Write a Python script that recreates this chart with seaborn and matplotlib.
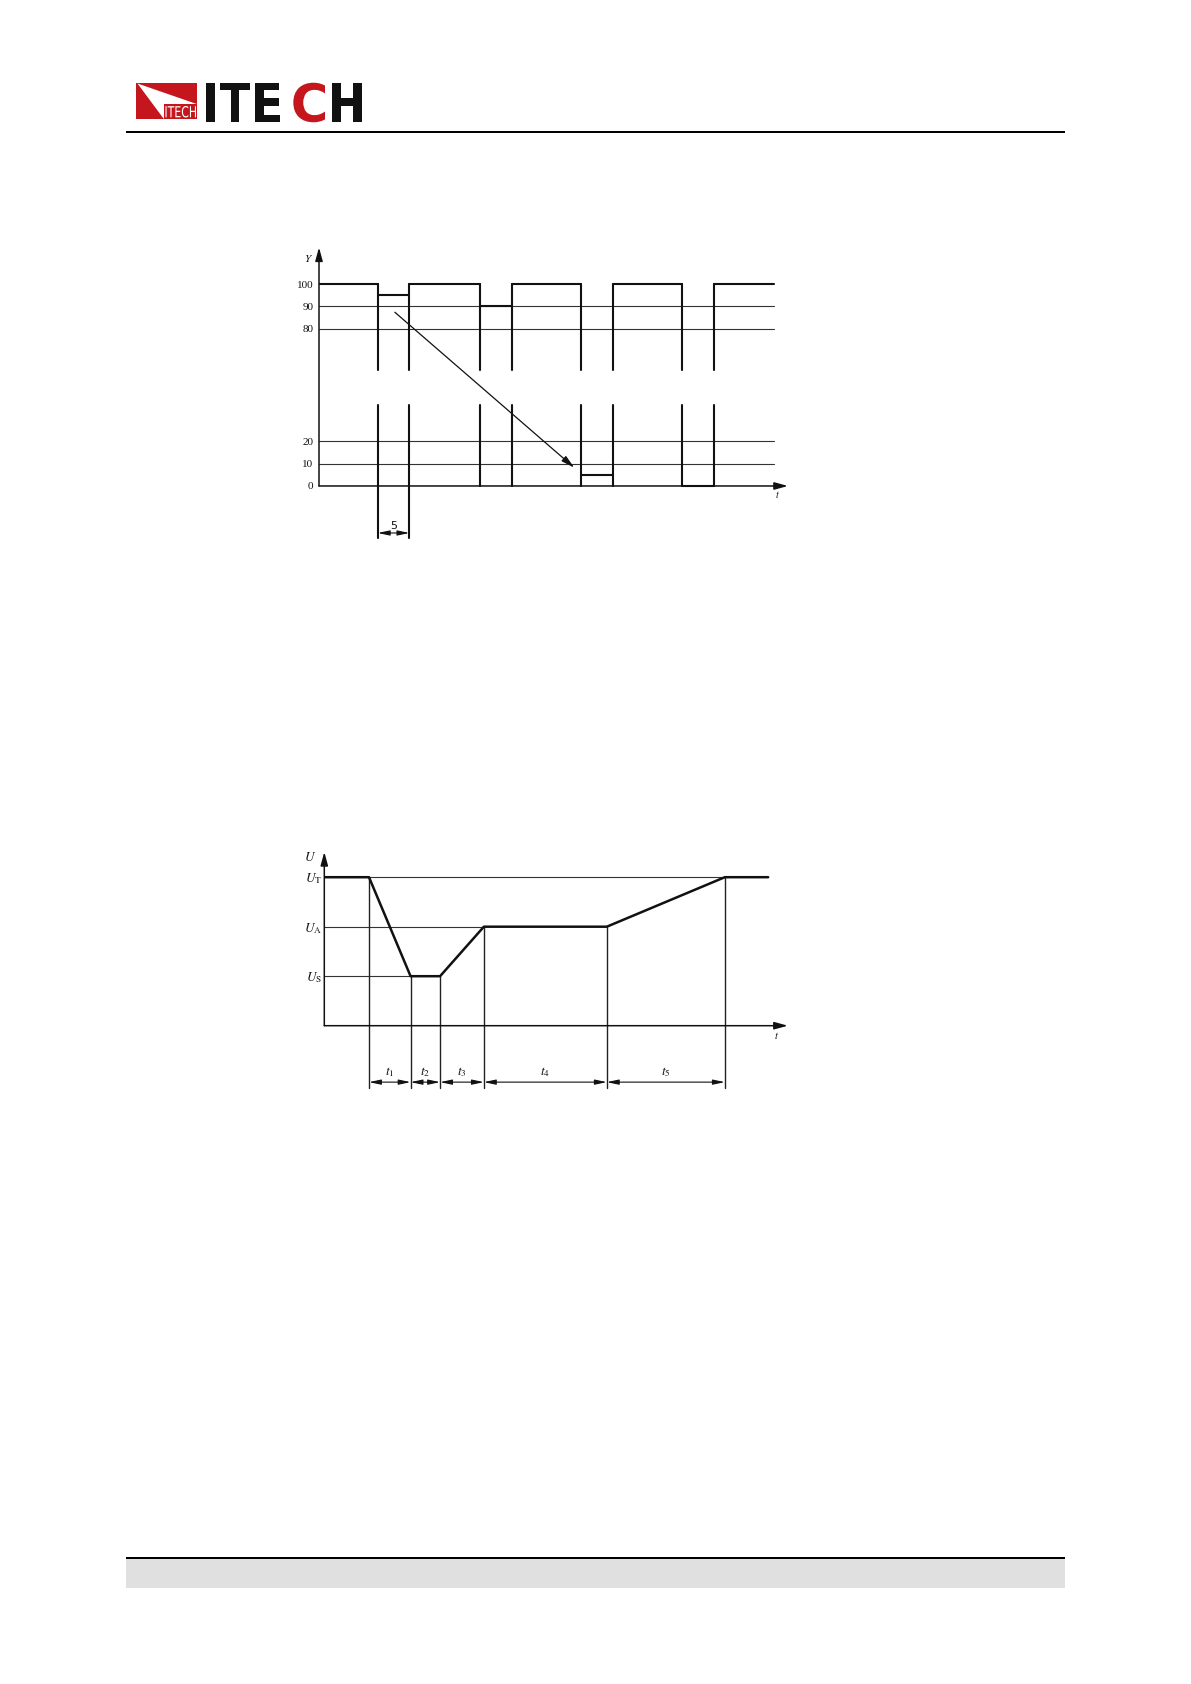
import numpy as np
import pandas as pd
import matplotlib
matplotlib.use("Agg")
import matplotlib.pyplot as plt
import seaborn as sns
from matplotlib.textpath import TextPath
from matplotlib.font_manager import FontProperties
from matplotlib.patches import PathPatch, Rectangle, Polygon
from matplotlib.transforms import Affine2D

# ---------------- Chart 1 data (test level Y in %, time in cycles) ----------------
c1_nominal = 100
c1_t_end = 72
c1_dip_start = [9.3, 25.5, 41.5, 57.5]
c1_dip_end = [14.3, 30.5, 46.5, 62.5]
c1_dip_level = [95, 90, 5, 0]
c1_ref_levels = [90, 80, 20, 10]
c1_yticks = [0, 10, 20, 80, 90, 100]
c1_ytick_labels = ["0", "10", "20", "80", "90", "100"]
c1_break_top = 61.5
c1_break_bottom = 36.4
c1_dim_bottom = -23.3
c1_dim_y = -21.1
c1_dim_label = "5"
c1_arrow_start = (12.0, 87.4)
c1_arrow_end = (40.4, 8.2)

# ---------------- Chart 2 data (U vs t) ----------------
c2_t = [0, 10, 19.3, 25.9, 35.7, 63.2, 89.6, 99.3]
c2_u = [3, 3, 1, 1, 2, 2, 3, 3]
c2_levels = [1, 2, 3]
c2_level_labels = [r"$U_{\mathrm{S}}$", r"$U_{\mathrm{A}}$", r"$U_{\mathrm{T}}$"]
c2_level_ends = [19.3, 35.7, 89.6]
c2_interval_labels = [r"$t_1$", r"$t_2$", r"$t_3$", r"$t_4$", r"$t_5$"]
c2_dim_bottom = -1.26
c2_dim_y = -1.14

sns.set_theme(style="white")
plt.rcParams["font.family"] = ["Liberation Serif", "DejaVu Serif"]
plt.rcParams["mathtext.fontset"] = "stix"

W, H = 1191, 1684
fig = plt.figure(figsize=(W / 100, H / 100), dpi=100)
fig.patch.set_facecolor("white")


def box(x0, y0, x1, y1):
    return [x0 / W, 1 - y1 / H, (x1 - x0) / W, (y1 - y0) / H]


# ---------------- page decoration ----------------
pg = fig.add_axes([0, 0, 1, 1])
pg.set_xlim(0, W)
pg.set_ylim(H, 0)
pg.axis("off")
pg.set_zorder(0)

RED = "#c4161c"


def fit_text(ax, s, x0, y0, x1, y1, color, family="DejaVu Sans", weight="bold"):
    tp = TextPath((0, 0), s, size=100, prop=FontProperties(family=family, weight=weight))
    ext = tp.get_extents()
    sx = (x1 - x0) / ext.width
    sy = (y1 - y0) / ext.height
    tr = Affine2D().translate(-ext.x0, -ext.y0).scale(sx, -sy).translate(x0, y1)
    ax.add_patch(PathPatch(tr.transform_path(tp), fc=color, ec="none", lw=0))


# logo
pg.add_patch(Rectangle((136, 82.5), 60.7, 36.8, fc=RED, ec="none"))
pg.add_patch(Polygon([(137.5, 83.5), (196.7, 104), (163.5, 118.5)], closed=True, fc="white", ec="none"))
pg.add_patch(Rectangle((163.5, 104), 33.2, 15.3, fc=RED, ec="none"))
fit_text(pg, "ITECH", 165.5, 106, 196, 117.5, "white", weight="normal")
letters = [("I", 205.7, 215.2, "#111111"), ("T", 220, 250, "#111111"), ("E", 255, 280, "#111111"),
           ("C", 293.3, 325, RED), ("H", 331.7, 362.3, "#111111")]
for ch, xa, xb, col in letters:
    fit_text(pg, ch, xa, 82.7, xb, 122.3, col)

pg.add_patch(Rectangle((126, 131), 939, 2.3, fc="black", ec="none"))
pg.add_patch(Rectangle((126, 1557), 939, 2.2, fc="black", ec="none"))
pg.add_patch(Rectangle((126, 1559.2), 939, 28.5, fc="#e0e0e0", ec="none"))

# ---------------- Chart 1 ----------------
def fwd(v):
    return np.interp(v, [-1000, 40, 60, 1000], [-1000, 40, 50.6, 990.6])


def inv(p):
    return np.interp(p, [-1000, 40, 50.6, 990.6], [-1000, 40, 60, 1000])


ax1 = fig.add_axes(box(319, 239.6, 319 + 76 * 6.32, 543.9))
ax1.set_facecolor("none")
ax1.set_zorder(2)
ax1.set_yscale("function", functions=(fwd, inv))

sig_rows = []
seg = 0
starts = [0] + c1_dip_end
ends = c1_dip_start + [c1_t_end]
for a, b in zip(starts, ends):
    sig_rows += [(seg, a, c1_nominal), (seg, b, c1_nominal)]
    seg += 1
for i, (a, b, lv) in enumerate(zip(c1_dip_start, c1_dip_end, c1_dip_level)):
    sig_rows += [(seg, a, lv), (seg, b, lv)]
    seg += 1
    low = c1_dim_bottom if i == 0 else 0
    for t in (a, b):
        sig_rows += [(seg, t, c1_nominal), (seg, t, c1_break_top)]
        seg += 1
        sig_rows += [(seg, t, c1_break_bottom), (seg, t, low)]
        seg += 1
sig_df = pd.DataFrame(sig_rows, columns=["seg", "t", "v"])

grid_rows = []
for j, lv in enumerate(c1_ref_levels):
    grid_rows += [(j, 0, lv), (j, c1_t_end, lv)]
grid_df = pd.DataFrame(grid_rows, columns=["seg", "t", "v"])

sns.lineplot(data=grid_df, x="t", y="v", units="seg", estimator=None, sort=False,
             color="#333333", lw=0.8, ax=ax1, legend=False)
sns.lineplot(data=sig_df, x="t", y="v", units="seg", estimator=None, sort=False,
             color="#111111", lw=1.5, ax=ax1, legend=False)

ax1.set_xlim(0, 76)
ax1.set_ylim(-26, 120)
for s in ax1.spines.values():
    s.set_visible(False)
ax1.set_xticks([])
ax1.set_yticks(c1_yticks, c1_ytick_labels)
ax1.tick_params(axis="y", length=0, pad=4, labelsize=8, labelcolor="#111111")
ax1.set_xlabel("")
ax1.set_ylabel("")
ax1.grid(False)

axis_arrow = dict(arrowstyle="-|>,head_length=0.8,head_width=0.22", lw=1.1, color="#111111",
                  shrinkA=0, shrinkB=0, mutation_scale=10)
ax1.annotate("", xy=(74.2, 0), xytext=(0, 0), arrowprops=axis_arrow)
ax1.annotate("", xy=(0, 116.5), xytext=(0, 0), arrowprops=axis_arrow)
ax1.text(-1.6, 111.7, r"$Y$", fontsize=8, ha="center", va="center", color="#111111")
ax1.text(72.6, -3.6, r"$t$", fontsize=7, ha="center", va="center", color="#111111")

dim_arrow = dict(arrowstyle="<|-|>,head_length=0.7,head_width=0.15", lw=0.8, color="#111111",
                 shrinkA=0, shrinkB=0, mutation_scale=10)
ax1.annotate("", xy=(c1_dip_start[0], c1_dim_y), xytext=(c1_dip_end[0], c1_dim_y), arrowprops=dim_arrow)
ax1.text((c1_dip_start[0] + c1_dip_end[0]) / 2, -18, c1_dim_label, fontsize=8,
         ha="center", va="center", color="#111111", family=["DejaVu Sans"])
ax1.annotate("", xy=c1_arrow_end, xytext=c1_arrow_start,
             arrowprops=dict(arrowstyle="-|>,head_length=0.8,head_width=0.2", lw=0.9, color="#111111",
                             shrinkA=0, shrinkB=0, mutation_scale=10))

# ---------------- Chart 2 ----------------
ax2 = fig.add_axes(box(324.3, 842.55, 324.3 + 106 * 4.47, 1099.95))
ax2.set_facecolor("none")
ax2.set_zorder(2)

ref_rows = []
for j, (lv, te) in enumerate(zip(c2_levels, c2_level_ends)):
    ref_rows += [(j, 0, lv), (j, te, lv)]
ref_df = pd.DataFrame(ref_rows, columns=["seg", "t", "u"])
vert_rows = []
for j, (t, u) in enumerate(zip(c2_t[1:-1], c2_u[1:-1])):
    vert_rows += [(j, t, u), (j, t, c2_dim_bottom)]
vert_df = pd.DataFrame(vert_rows, columns=["seg", "t", "u"])

sns.lineplot(data=ref_df, x="t", y="u", units="seg", estimator=None, sort=False,
             color="#333333", lw=0.8, ax=ax2, legend=False)
sns.lineplot(data=vert_df, x="t", y="u", units="seg", estimator=None, sort=False,
             color="#222222", lw=1.0, ax=ax2, legend=False)
sns.lineplot(x=c2_t, y=c2_u, sort=False, estimator=None, color="#111111", lw=1.8, ax=ax2)

ax2.set_xlim(0, 106)
ax2.set_ylim(-1.5, 3.7)
for s in ax2.spines.values():
    s.set_visible(False)
ax2.set_xticks([])
ax2.set_yticks(c2_levels, c2_level_labels)
ax2.tick_params(axis="y", length=0, pad=1.5, labelsize=9.5, labelcolor="#111111")
ax2.set_xlabel("")
ax2.set_ylabel("")
ax2.grid(False)

ax2.annotate("", xy=(103.7, 0), xytext=(0, 0), arrowprops=axis_arrow)
ax2.annotate("", xy=(0, 3.51), xytext=(0, 0), arrowprops=axis_arrow)
ax2.text(-3.2, 3.39, r"$U$", fontsize=9.5, ha="center", va="center", color="#111111")
ax2.text(101.2, -0.2, r"$t$", fontsize=7.5, ha="center", va="center", color="#111111")

bounds = c2_t[1:7]
for k, lab in enumerate(c2_interval_labels):
    a, b = bounds[k], bounds[k + 1]
    ax2.annotate("", xy=(a, c2_dim_y), xytext=(b, c2_dim_y), arrowprops=dim_arrow)
    ax2.text((a + b) / 2, -0.93, lab, fontsize=9.5, ha="center", va="center", color="#111111")

fig.savefig("out.png", dpi=100, facecolor="white")
